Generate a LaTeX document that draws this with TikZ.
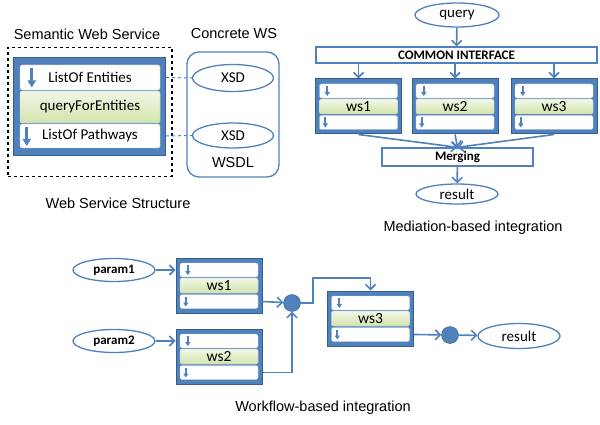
\documentclass[tikz,border=0pt]{standalone}
\usepackage{fontspec}
\setmainfont{Liberation Sans}
\newfontfamily\calfont{Carlito}
\usetikzlibrary{shapes.geometric,arrows.meta}
\definecolor{wsblue}{RGB}{79,129,189}
\definecolor{wsdark}{RGB}{56,93,138}
\definecolor{rowline}{RGB}{185,201,222}
\definecolor{greentop}{RGB}{242,247,230}
\definecolor{greenbot}{RGB}{210,228,172}

\tikzset{
  svc/.style={draw=wsdark,fill=wsblue,line width=1pt,minimum width=86pt,minimum height=55pt},
  svcrow/.style={draw=rowline,fill=white,rounded corners=2pt,minimum width=78pt,minimum height=14pt},
  svcop/.style={svcrow,top color=greentop,bottom color=greenbot,minimum height=15pt,font=\calfont\fontsize{15.5}{18}\selectfont},
  icon/.style={wsblue,line width=2pt,-{Triangle[length=4pt,width=5pt]}},
  flow/.style={wsblue,line width=1.6pt,-{Straight Barb[length=5pt,width=10pt]}},
  link/.style={wsblue,line width=1pt,dashed},
  oval/.style={ellipse,draw=wsblue,line width=1.3pt,fill=white,font=\calfont\fontsize{15}{18}\selectfont},
  bar/.style={draw=wsblue,line width=1.3pt,fill=white,font=\calfont\bfseries\fontsize{13}{15}\selectfont},
  dot/.style={circle,draw=wsdark,fill=wsblue,minimum size=17pt},
  caption/.style={font=\fontsize{14.5}{17}\selectfont},
}

% service box: name, x, y, operation
\newcommand{\svcbox}[4]{%
  \node[svc] (#1) at (#2,#3) {};
  \node[svcrow] (#1-in) at (#2,#3-15.5) {};
  \node[svcop] (#1-op) at (#2,#3) {#4};
  \node[svcrow] (#1-out) at (#2,#3+16) {};
  \draw[icon] (#1-in.west) ++(8,-5) -- ++(0,10);
  \draw[icon] (#1-out.west) ++(6,-5) -- ++(0,10);
}

\begin{document}
\begin{tikzpicture}[x=1pt,y=-1pt,every node/.style={inner sep=0pt}]
\useasboundingbox (0,0) rectangle (600,425);

% web service structure
\node[caption] (swstitle) at (87,34) {Semantic Web Service};
\node[caption] (cwstitle) at (234,34) {Concrete WS};
\node[draw,dashed,line width=1.3pt,minimum width=164pt,minimum height=129pt] (frame) at (90,112) {};
\node[svc,minimum width=152pt,minimum height=98pt] (sws) at (89.5,107) {};
\node[svcrow,minimum width=140pt,minimum height=25pt,font=\calfont\fontsize{15}{18}\selectfont] (sws-in) at (90,77.5) {ListOf Entities};
\node[svcop,minimum width=140pt,minimum height=32pt,font=\calfont\fontsize{15}{18}\selectfont] (sws-op) at (90,107) {queryForEntities};
\node[svcrow,minimum width=140pt,minimum height=24pt,font=\calfont\fontsize{15}{18}\selectfont] (sws-out) at (90,136) {ListOf Pathways};
\draw[icon,line width=3pt,-{Triangle[length=7pt,width=8pt]}] (sws-in.west) ++(12,-9) -- ++(0,19);
\draw[icon,line width=3pt,-{Triangle[length=7pt,width=8pt]}] (sws-out.west) ++(7,-9) -- ++(0,19);
\node[draw=wsblue,line width=1.3pt,rounded corners=12pt,minimum width=92pt,minimum height=125pt] (wsdl) at (233,114.5) {};
\node[oval,minimum width=81pt,minimum height=27pt] (xsd1) at (233,78) {XSD};
\node[oval,minimum width=81pt,minimum height=25pt] (xsd2) at (233,135.5) {XSD};
\node[caption] (wsdltext) at (233,163) {WSDL};
\draw[link] (sws-in -| sws.east) -- (xsd1.west);
\draw[link] (sws-out -| sws.east) -- (xsd2.west);
\node[caption] (structure) at (118,203) {Web Service Structure};

% mediation
\node[oval,minimum width=84pt,minimum height=24pt] (query) at (457,15) {query};
\node[bar,minimum width=281pt,minimum height=16pt] (common) at (456.5,55) {COMMON INTERFACE};
\svcbox{ma}{358.5}{106.5}{ws1}
\svcbox{mb}{455}{106.5}{ws2}
\svcbox{mc}{554}{106.5}{ws3}
\node[bar,minimum width=151pt,minimum height=18pt] (merge) at (457.5,157) {Merging};
\node[oval,minimum width=82pt,minimum height=20pt] (res1) at (457,194) {result};
\draw[flow] (query) -- (common);
\foreach \w in {ma,mb,mc}
  \draw[flow] (common.south -| \w) -- (\w);
\foreach \w in {ma,mb,mc}
  \draw[flow] (\w.south) -- (merge.north);
\draw[flow] (merge) -- (res1);
\node[caption] (mediation) at (473,228) {Mediation-based integration};

% workflow
\node[oval,minimum width=82pt,minimum height=23pt,font=\calfont\bfseries\fontsize{13}{15}\selectfont] (p1) at (114,270) {param1};
\node[oval,minimum width=82pt,minimum height=23pt,font=\calfont\bfseries\fontsize{13}{15}\selectfont] (p2) at (114,341) {param2};
\svcbox{wa}{219}{285.5}{ws1}
\svcbox{wb}{219}{356.5}{ws2}
\svcbox{wc}{370.5}{318.5}{ws3}
\node[dot] (j1) at (292,303) {};
\node[dot] (j2) at (450,335) {};
\node[oval,minimum width=82pt,minimum height=25pt] (res2) at (519,336) {result};
\coordinate (turn) at (313,278);
\draw[flow] (p1) -- (p1 -| wa.west);
\draw[flow] (p2) -- (p2 -| wb.west);
\draw[flow] (wa-out -| wa.east) -- (j1);
\draw[flow] (wb-out -| wb.east) -| (j1);
\draw[flow] (j1) -| (turn) -| (wc);
\draw[flow] (wc-out -| wc.east) -- (j2);
\draw[flow] (j2) -- (res2);
\node[caption] (workflow) at (323,408) {Workflow-based integration};
\end{tikzpicture}
\end{document}
